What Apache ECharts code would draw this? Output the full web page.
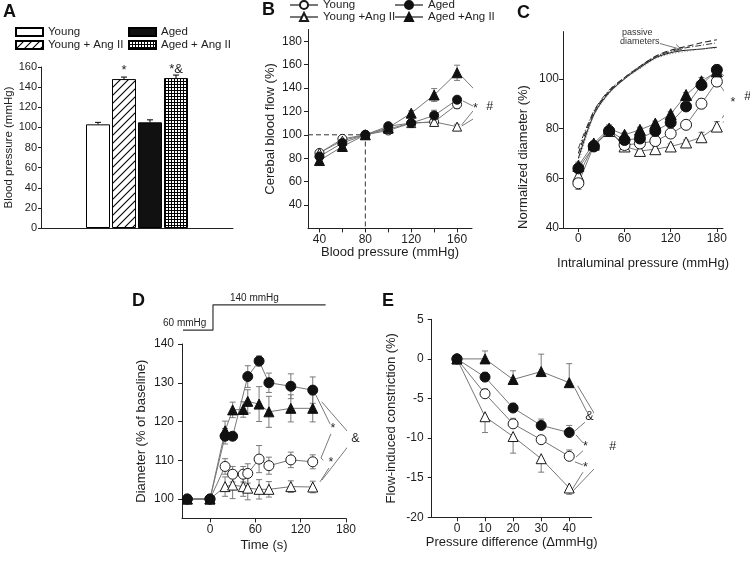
<!DOCTYPE html>
<html><head><meta charset="utf-8">
<script src="https://cdn.jsdelivr.net/npm/echarts@6/dist/echarts.min.js"></script>
<style>html,body{margin:0;padding:0;background:#fff}#c{width:750px;height:561px}</style>
</head><body><div id="c"></div>
<script>
// ---------------- DATA ----------------
// Panel A
const aGroups = ['Young', 'Young + Ang II', 'Aged', 'Aged + Ang II'];
const aValues = [103, 148, 105, 149];
const aErrors = [2, 2, 2.5, 3];
const aSig = ['', '*', '', '*&'];

// Panel B
const bPressure = [40, 60, 80, 100, 120, 140, 160];
const bYoung = [84.5, 96.5, 100, 103.7, 110, 111, 126];
const bYoungErr = [2, 2, 0, 1.5, 2, 2, 3.5];
const bAged = [81.5, 93, 100, 107.4, 110, 116.5, 130];
const bAgedErr = [3, 2, 0, 2, 2, 4.5, 2];
const bYoungAng = [84.6, 95, 100, 105, 110, 111, 107];
const bYoungAngErr = [2, 2, 0, 1.5, 1.5, 1.5, 2];
const bAgedAng = [78, 90, 100, 106, 118.5, 134, 153];
const bAgedAngErr = [3, 2, 0, 2, 2, 5.5, 6.5];
const bLabelTicks = [40, 80, 120, 160];
const bMinorTicks = [40, 60, 80, 100, 120, 140, 160];
const bYTicks = [40, 60, 80, 100, 120, 140, 160, 180];

// Panel C
const cPressure = [0, 20, 40, 60, 80, 100, 120, 140, 160, 180];
const cYoung = [58, 73, 79, 73.4, 74, 75, 78, 81.5, 90, 98.9];
const cYoungErr = [2.5, 1, 1.5, 1, 1, 1, 1, 1.5, 2, 2];
const cYoungAng = [61, 73.5, 79, 72.8, 71, 71.7, 72.8, 74.4, 76.5, 80.8];
const cYoungAngErr = [1.5, 1, 1.5, 1, 1, 1, 1, 1, 2, 2];
const cAged = [64, 72.8, 79, 75.4, 76, 79, 82.4, 88.9, 97.5, 103.6];
const cAgedErr = [1.5, 1, 1.5, 1, 1, 1, 1, 1.5, 1.5, 2];
const cAgedAng = [65, 74, 80, 77.5, 79.5, 82, 85.8, 93.5, 99, 103];
const cAgedAngErr = [1.5, 1, 1.5, 1, 1, 1, 1, 1, 1.5, 2];
const cPassiveYoung = [68, 85.5, 94.5, 100, 104.5, 108.5, 110.5, 111.5, 112, 112.7];
const cPassiveAged = [70, 86.5, 95, 100.5, 105, 109, 111.5, 113, 114.5, 115.7];
const cPassiveYoungAng = [66, 85, 94, 100, 104, 108, 110, 111, 112, 112.3];
const cPassiveAgedAng = [72, 87, 95.5, 100.5, 105, 109, 111, 112.5, 113.5, 114.5];
const cTicks = [0, 60, 120, 180];
const cYTicks = [40, 60, 80, 100];

// Panel D
const dTimeAged = [-30, 0, 20, 30, 50, 65, 78, 107, 136];
const dAged = [100, 100, 116.2, 116.2, 131.6, 135.6, 130, 129.1, 128.1];
const dAgedErr = [0, 0, 2, 1, 2.8, 1.3, 2.5, 3.2, 3.4];
const dTime = [-30, 0, 20, 30, 44, 50, 65, 78, 107, 136];
const dAgedAng = [100, 100, 117.6, 123, 123.1, 125.2, 124.5, 122.5, 123.4, 123.4];
const dAgedAngErr = [0, 0, 2.5, 2, 2, 3, 4.5, 4, 3.5, 3.5];
const dYoung = [100, 100, 108.4, 106.4, 106.4, 106.6, 110.3, 108.6, 110.1, 109.6];
const dYoungErr = [0, 0, 2, 2, 2, 2.5, 3.5, 2.2, 2, 1.8];
const dYoungAng = [100, 100, 103.2, 103.6, 103.2, 102.8, 102.5, 102.5, 103.2, 103.1];
const dYoungAngErr = [0, 0, 2.5, 3.5, 2.5, 3, 2.5, 2, 1.5, 1.5];
const dTicks = [0, 60, 120, 180];
const dYTicks = [100, 110, 120, 130, 140];

// Panel E
const eDiff = [0, 10, 20, 30, 40];
const eYoung = [0, -4.4, -8.2, -10.2, -12.3];
const eYoungErr = [0, 0.6, 0.7, 0.5, 0.8];
const eAged = [0, -2.3, -6.2, -8.4, -9.3];
const eAgedErr = [0, 0.6, 0.6, 0.8, 0.9];
const eYoungAng = [0, -7.3, -9.8, -12.6, -16.3];
const eYoungAngErr = [0, 2, 2.1, 1.7, 0.8];
const eAgedAng = [0, 0, -2.6, -1.6, -3.0];
const eAgedAngErr = [0, 1, 1.1, 2.2, 2.4];
const eYTicks = [-20, -15, -10, -5, 0, 5];

// ---------------- STYLE ----------------
const FONT = '"Liberation Sans", Arial, Helvetica, sans-serif';
const TXT = '#1e1e1e';
const AX = '#222';
const LINE = '#777';
const ERR = '#7a7a7a';

function hatchPattern() {
  const s = 8, c = document.createElement('canvas');
  c.width = s; c.height = s;
  const g = c.getContext('2d');
  g.fillStyle = '#fff'; g.fillRect(0, 0, s, s);
  g.strokeStyle = '#000'; g.lineWidth = 1.1;
  g.beginPath();
  g.moveTo(0, s); g.lineTo(s, 0);
  g.moveTo(-2, 2); g.lineTo(2, -2);
  g.moveTo(s - 2, s + 2); g.lineTo(s + 2, s - 2);
  g.stroke();
  return { image: c, repeat: 'repeat' };
}
function gridPattern() {
  const c = document.createElement('canvas');
  c.width = 3; c.height = 3;
  const g = c.getContext('2d');
  g.fillStyle = '#000'; g.fillRect(0, 0, 3, 3);
  g.fillStyle = '#fff'; g.fillRect(1, 1, 2, 2);
  return { image: c, repeat: 'repeat' };
}
const aFills = ['#fff', hatchPattern(), '#111', gridPattern()];

function valAxis(gi, min, max, labels, ticks, margin, name, nameGap, extra) {
  const ax = {
    type: 'value', gridIndex: gi, min: min, max: max,
    splitLine: { show: false },
    axisLine: { show: true, onZero: false, lineStyle: { color: AX, width: 1 } },
    axisTick: { show: true, length: 4, lineStyle: { color: AX }, customValues: ticks },
    axisLabel: { color: TXT, fontSize: 12, fontFamily: FONT, margin: margin, customValues: labels },
  };
  if (name) {
    ax.name = name; ax.nameLocation = 'middle'; ax.nameGap = nameGap;
    ax.nameTextStyle = { fontSize: 13, color: TXT, fontFamily: FONT };
  }
  return Object.assign(ax, extra || {});
}

const SYM = {
  young: { symbol: 'circle', itemStyle: { color: '#fff', borderColor: '#1a1a1a', borderWidth: 1 } },
  aged: { symbol: 'circle', itemStyle: { color: '#111', borderColor: '#111', borderWidth: 1 } },
  youngAng: { symbol: 'triangle', itemStyle: { color: '#fff', borderColor: '#1a1a1a', borderWidth: 1 } },
  agedAng: { symbol: 'triangle', itemStyle: { color: '#111', borderColor: '#111', borderWidth: 1 } },
};

function lineSeries(name, gi, xs, ys, kind, size) {
  return {
    type: 'line', name: name, xAxisIndex: gi, yAxisIndex: gi,
    data: xs.map((x, i) => [x, ys[i]]),
    symbol: SYM[kind].symbol, symbolSize: size, showSymbol: true,
    itemStyle: SYM[kind].itemStyle,
    lineStyle: { color: LINE, width: 1 },
    z: 4, animation: false, clip: false,
  };
}

function errSeries(gi, xs, ys, es, dir) {
  return {
    type: 'custom', xAxisIndex: gi, yAxisIndex: gi, z: 3, silent: true, animation: false,
    data: xs.map((x, i) => [x, ys[i], es[i]]),
    renderItem: function (p, api) {
      const x = api.value(0), y = api.value(1), e = api.value(2);
      if (!e) return null;
      const up = dir !== 'down', dn = dir !== 'up';
      const hi = up ? y + e : y, lo = dn ? y - e : y;
      const a = api.coord([x, hi]), b = api.coord([x, lo]);
      const w = 3, st = { stroke: ERR, lineWidth: 1 };
      const ch = [{ type: 'line', shape: { x1: a[0], y1: a[1], x2: b[0], y2: b[1] }, style: st }];
      if (up) ch.push({ type: 'line', shape: { x1: a[0] - w, y1: a[1], x2: a[0] + w, y2: a[1] }, style: st });
      if (dn) ch.push({ type: 'line', shape: { x1: b[0] - w, y1: b[1], x2: b[0] + w, y2: b[1] }, style: st });
      return { type: 'group', children: ch };
    }
  };
}

function annoLine(gi, pts, style) {
  return {
    type: 'line', xAxisIndex: gi, yAxisIndex: gi, data: pts, symbol: 'none',
    clip: false, silent: true, animation: false, z: 2,
    lineStyle: Object.assign({ color: ERR, width: 1 }, style || {}),
  };
}
function annoText(gi, items, size) {
  return {
    type: 'custom', xAxisIndex: gi, yAxisIndex: gi, silent: true, z: 6, animation: false, clip: false,
    data: items.map(t => [t[0], t[1]]),
    renderItem: function (p, api) {
      const c = api.coord([api.value(0), api.value(1)]);
      return { type: 'text', x: c[0], y: c[1],
        style: { text: items[p.dataIndex][2], fill: TXT, font: (size || 11) + 'px ' + FONT,
          align: 'center', verticalAlign: 'middle' } };
    }
  };
}

// ---------------- OPTION ----------------
const grids = [
  { left: 41, top: 67, width: 192, height: 161 },       // A
  { left: 308, top: 29.5, width: 164, height: 198.9 },  // B
  { left: 563, top: 31.6, width: 160, height: 196.4 },  // C
  { left: 182, top: 344, width: 164, height: 174.4 },   // D
  { left: 431.7, top: 319.3, width: 160, height: 198 }, // E
];

const xAxes = [
  { type: 'category', gridIndex: 0, data: [''],
    axisLine: { show: true, lineStyle: { color: AX } }, axisTick: { show: false }, axisLabel: { show: false } },
  valAxis(1, 30, 173, bLabelTicks, bMinorTicks, 5, 'Blood pressure (mmHg)', 17),
  valAxis(2, -20, 188, cTicks, cTicks, 5, 'Intraluminal pressure (mmHg)', 29),
  valAxis(3, -37, 180, dTicks, dTicks, 5, 'Time (s)', 21),
  valAxis(4, -9, 48, eDiff, eDiff, 5, 'Pressure difference (\u0394mmHg)', 19),
];
const yAxes = [
  { type: 'value', gridIndex: 0, min: 0, max: 160, interval: 20,
    splitLine: { show: false },
    axisLine: { show: true, lineStyle: { color: AX } },
    axisTick: { show: true, length: 3, lineStyle: { color: AX } },
    axisLabel: { color: TXT, fontSize: 11, fontFamily: FONT, margin: 4 },
    name: 'Blood pressure (mmHg)', nameLocation: 'middle', nameGap: 21,
    nameTextStyle: { fontSize: 11.5, color: TXT, fontFamily: FONT } },
  valAxis(1, 20, 190, bYTicks, bYTicks, 6, 'Cerebal blood flow (%)', 31),
  valAxis(2, 40, 119, cYTicks, cYTicks, 4, null, 0),
  valAxis(3, 95, 140, dYTicks, dYTicks, 8, 'Diameter (% of baseline)', 34),
  valAxis(4, -20, 5, eYTicks, eYTicks, 8, 'Flow-induced constriction (%)', 34),
];

const series = [];

// A bars
aGroups.forEach((g, i) => {
  series.push({
    type: 'bar', name: g, xAxisIndex: 0, yAxisIndex: 0, data: [aValues[i]],
    barWidth: 24, barGap: '8.33%', animation: false,
    itemStyle: { color: aFills[i], borderColor: '#000', borderWidth: 1 },
    label: { show: !!aSig[i], position: 'top', distance: 2, formatter: aSig[i],
      color: TXT, fontSize: 13, fontFamily: FONT },
    z: 2,
  });
});
series.push({
  type: 'custom', xAxisIndex: 0, yAxisIndex: 0, silent: true, z: 5, animation: false,
  data: aValues.map((v, i) => [0, v, v + aErrors[i], i]),
  renderItem: function (p, api) {
    const idx = api.value(3);
    const b = api.coord([0, api.value(1)]), t = api.coord([0, api.value(2)]);
    const x = b[0] + (idx - 1.5) * 26, st = { stroke: '#000', lineWidth: 1 };
    return { type: 'group', children: [
      { type: 'line', shape: { x1: x, y1: b[1], x2: x, y2: t[1] }, style: st },
      { type: 'line', shape: { x1: x - 3, y1: t[1], x2: x + 3, y2: t[1] }, style: st } ] };
  }
});

// B
series.push(annoLine(1, [[30, 100], [80, 100], [80, 20]], { type: [5, 3], color: '#333' }));
series.push(errSeries(1, bPressure, bYoung, bYoungErr, 'both'));
series.push(errSeries(1, bPressure, bYoungAng, bYoungAngErr, 'both'));
series.push(errSeries(1, bPressure, bAged, bAgedErr, 'both'));
series.push(errSeries(1, bPressure, bAgedAng, bAgedAngErr, 'both'));
series.push(lineSeries('B:Young', 1, bPressure, bYoung, 'young', 9));
series.push(lineSeries('B:Young +Ang II', 1, bPressure, bYoungAng, 'youngAng', 9));
series.push(lineSeries('B:Aged', 1, bPressure, bAged, 'aged', 9));
series.push(lineSeries('B:Aged +Ang II', 1, bPressure, bAgedAng, 'agedAng', 10));
series.push(annoLine(1, [[164, 150], [186.5, 127]]));
series.push(annoLine(1, [[186.5, 121], [164, 107.5]]));
series.push(annoLine(1, [[165, 129], [174, 124.5]]));
series.push(annoLine(1, [[174, 120.5], [164, 108.5]]));
series.push(annoText(1, [[176, 122.5, '*'], [188.5, 124, '#']], 12.5));

// C passive curves
series.push(Object.assign(annoLine(2, cPressure.map((x, i) => [x, cPassiveYoung[i]]), { color: '#222', width: 1.1 }), { smooth: 0.3 }));
series.push(Object.assign(annoLine(2, cPressure.map((x, i) => [x, cPassiveAged[i]]), { color: '#222', width: 1.1, type: [6, 3] }), { smooth: 0.3 }));
series.push(Object.assign(annoLine(2, cPressure.map((x, i) => [x, cPassiveYoungAng[i]]), { color: '#888', width: 1, type: [1, 2] }), { smooth: 0.3 }));
series.push(Object.assign(annoLine(2, cPressure.map((x, i) => [x, cPassiveAgedAng[i]]), { color: '#333', width: 1, type: [6, 2, 1, 2] }), { smooth: 0.3 }));
series.push(errSeries(2, cPressure, cYoung, cYoungErr, 'both'));
series.push(errSeries(2, cPressure, cYoungAng, cYoungAngErr, 'both'));
series.push(errSeries(2, cPressure, cAged, cAgedErr, 'both'));
series.push(errSeries(2, cPressure, cAgedAng, cAgedAngErr, 'both'));
series.push(lineSeries('C:Young +Ang II', 2, cPressure, cYoungAng, 'youngAng', 11));
series.push(lineSeries('C:Young', 2, cPressure, cYoung, 'young', 11));
series.push(lineSeries('C:Aged', 2, cPressure, cAged, 'aged', 11));
series.push(lineSeries('C:Aged +Ang II', 2, cPressure, cAgedAng, 'agedAng', 11));
series.push(annoLine(2, [[184, 102.8], [215, 93.5]]));
series.push(annoLine(2, [[215, 91.5], [188, 82.4]]));
series.push(annoLine(2, [[184, 97.5], [197, 91.7]]));
series.push(annoLine(2, [[197, 89.3], [187, 84.2]]));
series.push(annoText(2, [[201, 90.4, '*'], [220, 92.7, '#']], 12.5));
series.push(annoLine(2, [[106, 114.2], [134, 111.8]], { color: '#555', width: 0.8 }));
series.push(annoLine(2, [[127, 113.8], [134, 111.8], [127, 111.2]], { color: '#555', width: 0.8 }));

// D
series.push(annoLine(3, [[-35.7, 143.6], [4, 143.6], [4, 150.1], [153, 150.1]], { color: '#333', width: 1.2 }));
series.push(errSeries(3, dTime, dYoungAng, dYoungAngErr, 'both'));
series.push(errSeries(3, dTime, dYoung, dYoungErr, 'both'));
series.push(errSeries(3, dTime, dAgedAng, dAgedAngErr, 'both'));
series.push(errSeries(3, dTimeAged, dAged, dAgedErr, 'both'));
series.push(lineSeries('D:Young +Ang II', 3, dTime, dYoungAng, 'youngAng', 10));
series.push(lineSeries('D:Young', 3, dTime, dYoung, 'young', 10));
series.push(lineSeries('D:Aged +Ang II', 3, dTime, dAgedAng, 'agedAng', 10));
series.push(lineSeries('D:Aged', 3, dTimeAged, dAged, 'aged', 10));
series.push(annoLine(3, [[140.2, 126.8], [158.8, 119.4]]));
series.push(annoLine(3, [[160, 116.8], [146.9, 110.6], [150, 110]]));
series.push(annoLine(3, [[157.4, 108], [145.5, 104.4]]));
series.push(annoLine(3, [[147.8, 125.1], [187.5, 116.2]]));
series.push(annoLine(3, [[185.2, 114.2], [148.2, 104.9]]));
series.push(annoText(3, [[162.7, 118.1, '*'], [160, 109.3, '*'], [192.5, 115.5, '&']], 12.5));

// E
series.push(errSeries(4, eDiff, eYoungAng, eYoungAngErr, 'down'));
series.push(errSeries(4, eDiff, eYoung, eYoungErr, 'up'));
series.push(errSeries(4, eDiff, eAged, eAgedErr, 'up'));
series.push(errSeries(4, eDiff, eAgedAng, eAgedAngErr, 'up'));
series.push(lineSeries('E:Young +Ang II', 4, eDiff, eYoungAng, 'youngAng', 10));
series.push(lineSeries('E:Young', 4, eDiff, eYoung, 'young', 10));
series.push(lineSeries('E:Aged', 4, eDiff, eAged, 'aged', 10));
series.push(lineSeries('E:Aged +Ang II', 4, eDiff, eAgedAng, 'agedAng', 10));
series.push(annoLine(4, [[42, -3.7], [46.3, -6.7]]));
series.push(annoLine(4, [[45.6, -8], [42, -9.1]]));
series.push(annoLine(4, [[43, -3.4], [54.5, -10.2]]));
series.push(annoLine(4, [[54.5, -11.8], [41, -16.8]]));
series.push(annoLine(4, [[42.4, -9.6], [44.9, -10.6]]));
series.push(annoLine(4, [[44.9, -11.6], [42.4, -12.4]]));
series.push(annoLine(4, [[42, -13], [44.9, -13.4]]));
series.push(annoLine(4, [[44.9, -14.3], [41, -16.5]]));
series.push(annoText(4, [[47.2, -7.3, '&'], [45.8, -11.1, '*'], [45.8, -13.7, '*'], [55.5, -11.1, '#']], 12.5));

// Legends
const legends = [];
[['Young', 15, 26], ['Aged', 128, 26], ['Young + Ang II', 15, 39], ['Aged + Ang II', 128, 39]].forEach(l => {
  legends.push({ data: [{ name: l[0], icon: 'rect' }], left: l[1], top: l[2], padding: 0, itemWidth: 27, itemHeight: 8,
    selectedMode: false, textStyle: { fontSize: 11.5, color: TXT, fontFamily: FONT } });
});
[['B:Young', 289, -1], ['B:Aged', 394, -1], ['B:Young +Ang II', 289, 11], ['B:Aged +Ang II', 394, 11]].forEach(l => {
  legends.push({ data: [l[0]], left: l[1], top: l[2], padding: 0, itemWidth: 28, itemHeight: 10,
    selectedMode: false, formatter: n => n.slice(2),
    textStyle: { fontSize: 11.5, color: TXT, fontFamily: FONT } });
});

function letter(t, x, y) {
  return { type: 'text', x: x, y: y, silent: true,
    style: { text: t, font: 'bold 18px ' + FONT, fill: '#111', verticalAlign: 'top' } };
}
const graphic = [
  letter('A', 3, 3), letter('B', 262, 1), letter('C', 517, 4), letter('D', 132, 292), letter('E', 382, 292),
  { type: 'text', x: 523, y: 157, rotation: Math.PI / 2, silent: true,
    style: { text: 'Normalized diameter (%)', font: '13px ' + FONT, fill: TXT, align: 'center', verticalAlign: 'middle' } },
  { type: 'text', x: 622, y: 33, silent: true,
    style: { text: 'passive', font: '9px ' + FONT, fill: '#333', verticalAlign: 'middle' } },
  { type: 'text', x: 620, y: 42, silent: true,
    style: { text: 'diameters', font: '9px ' + FONT, fill: '#333', verticalAlign: 'middle' } },
  { type: 'text', x: 163, y: 323, silent: true,
    style: { text: '60 mmHg', font: '10px ' + FONT, fill: TXT, verticalAlign: 'middle' } },
  { type: 'text', x: 230, y: 298, silent: true,
    style: { text: '140 mmHg', font: '10px ' + FONT, fill: TXT, verticalAlign: 'middle' } },
];

const chart = echarts.init(document.getElementById('c'), null, { renderer: 'canvas', width: 750, height: 561 });
chart.setOption({
  animation: false,
  backgroundColor: '#fff',
  textStyle: { fontFamily: FONT },
  grid: grids,
  xAxis: xAxes,
  yAxis: yAxes,
  legend: legends,
  series: series,
  graphic: graphic,
});
</script></body></html>
